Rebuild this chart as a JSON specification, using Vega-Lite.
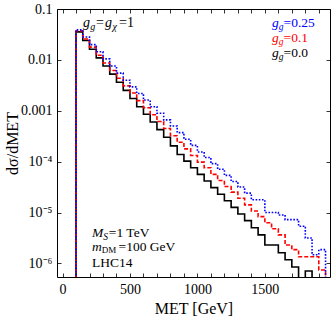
{
  "$schema": "https://vega.github.io/schema/vega-lite/v6.json",
  "autosize": {"type": "none"},
  "width": 273,
  "height": 268,
  "padding": {"left": 57, "top": 9, "right": 2, "bottom": 41},
  "background": "white",
  "config": {
    "view": {"stroke": "#000000", "strokeWidth": 1},
    "axis": {"domain": false, "grid": false, "tickColor": "#000000", "labelColor": "#000000", "titleColor": "#000000", "labelFont": "Liberation Serif", "titleFont": "Liberation Serif", "labelFontSize": 14, "titleFontSize": 16, "titleFontWeight": "normal", "tickWidth": 0.8},
    "text": {"font": "Liberation Serif", "fontSize": 13.5, "align": "left", "baseline": "alphabetic", "color": "#000000"}
  },
  "datasets": {
    "hist": [
      {"met": 50, "v": 1e-9, "s": "0.0"},
      {"met": 100, "v": 0.03548, "s": "0.0"},
      {"met": 150, "v": 0.02399, "s": "0.0"},
      {"met": 200, "v": 0.01622, "s": "0.0"},
      {"met": 250, "v": 0.01096, "s": "0.0"},
      {"met": 300, "v": 0.007586, "s": "0.0"},
      {"met": 350, "v": 0.005248, "s": "0.0"},
      {"met": 400, "v": 0.003631, "s": "0.0"},
      {"met": 450, "v": 0.002512, "s": "0.0"},
      {"met": 500, "v": 0.001738, "s": "0.0"},
      {"met": 550, "v": 0.001202, "s": "0.0"},
      {"met": 600, "v": 0.0008511, "s": "0.0"},
      {"met": 650, "v": 0.0006026, "s": "0.0"},
      {"met": 700, "v": 0.0004266, "s": "0.0"},
      {"met": 750, "v": 0.000302, "s": "0.0"},
      {"met": 800, "v": 0.0002042, "s": "0.0"},
      {"met": 850, "v": 0.000138, "s": "0.0"},
      {"met": 900, "v": 0.0001023, "s": "0.0"},
      {"met": 950, "v": 7.586e-5, "s": "0.0"},
      {"met": 1000, "v": 5.623e-5, "s": "0.0"},
      {"met": 1050, "v": 4.169e-5, "s": "0.0"},
      {"met": 1100, "v": 3.09e-5, "s": "0.0"},
      {"met": 1150, "v": 2.291e-5, "s": "0.0"},
      {"met": 1200, "v": 1.698e-5, "s": "0.0"},
      {"met": 1250, "v": 1.259e-5, "s": "0.0"},
      {"met": 1300, "v": 9.333e-6, "s": "0.0"},
      {"met": 1350, "v": 6.918e-6, "s": "0.0"},
      {"met": 1400, "v": 5.012e-6, "s": "0.0"},
      {"met": 1450, "v": 3.631e-6, "s": "0.0"},
      {"met": 1500, "v": 2.291e-6, "s": "0.0"},
      {"met": 1550, "v": 2.291e-6, "s": "0.0"},
      {"met": 1600, "v": 1.622e-6, "s": "0.0"},
      {"met": 1650, "v": 1.175e-6, "s": "0.0"},
      {"met": 1700, "v": 8.511e-7, "s": "0.0"},
      {"met": 1750, "v": 1e-9, "s": "0.0"},
      {"met": 1800, "v": 7.079e-7, "s": "0.0"},
      {"met": 1850, "v": 1e-9, "s": "0.0"},
      {"met": 1900, "v": 1e-9, "s": "0.0"},
      {"met": 1950, "v": 1e-9, "s": "0.0"},
      {"met": 50, "v": 1e-9, "s": "0.1"},
      {"met": 100, "v": 0.03715, "s": "0.1"},
      {"met": 150, "v": 0.0257, "s": "0.1"},
      {"met": 200, "v": 0.01778, "s": "0.1"},
      {"met": 250, "v": 0.0123, "s": "0.1"},
      {"met": 300, "v": 0.00871, "s": "0.1"},
      {"met": 350, "v": 0.006166, "s": "0.1"},
      {"met": 400, "v": 0.004365, "s": "0.1"},
      {"met": 450, "v": 0.00309, "s": "0.1"},
      {"met": 500, "v": 0.002239, "s": "0.1"},
      {"met": 550, "v": 0.001585, "s": "0.1"},
      {"met": 600, "v": 0.001148, "s": "0.1"},
      {"met": 650, "v": 0.0008318, "s": "0.1"},
      {"met": 700, "v": 0.0006166, "s": "0.1"},
      {"met": 750, "v": 0.0004467, "s": "0.1"},
      {"met": 800, "v": 0.0003236, "s": "0.1"},
      {"met": 850, "v": 0.0002399, "s": "0.1"},
      {"met": 900, "v": 0.0001778, "s": "0.1"},
      {"met": 950, "v": 0.0001318, "s": "0.1"},
      {"met": 1000, "v": 9.772e-5, "s": "0.1"},
      {"met": 1050, "v": 7.586e-5, "s": "0.1"},
      {"met": 1100, "v": 5.623e-5, "s": "0.1"},
      {"met": 1150, "v": 4.266e-5, "s": "0.1"},
      {"met": 1200, "v": 3.236e-5, "s": "0.1"},
      {"met": 1250, "v": 2.512e-5, "s": "0.1"},
      {"met": 1300, "v": 1.905e-5, "s": "0.1"},
      {"met": 1350, "v": 1.413e-5, "s": "0.1"},
      {"met": 1400, "v": 1.072e-5, "s": "0.1"},
      {"met": 1450, "v": 8.318e-6, "s": "0.1"},
      {"met": 1500, "v": 6.31e-6, "s": "0.1"},
      {"met": 1550, "v": 4.786e-6, "s": "0.1"},
      {"met": 1600, "v": 3.631e-6, "s": "0.1"},
      {"met": 1650, "v": 2.291e-6, "s": "0.1"},
      {"met": 1700, "v": 1.862e-6, "s": "0.1"},
      {"met": 1750, "v": 1.349e-6, "s": "0.1"},
      {"met": 1800, "v": 1.349e-6, "s": "0.1"},
      {"met": 1850, "v": 1.349e-6, "s": "0.1"},
      {"met": 1900, "v": 7.413e-7, "s": "0.1"},
      {"met": 1950, "v": 1e-9, "s": "0.1"},
      {"met": 50, "v": 1e-9, "s": "0.25"},
      {"met": 100, "v": 0.0389, "s": "0.25"},
      {"met": 150, "v": 0.02818, "s": "0.25"},
      {"met": 200, "v": 0.01995, "s": "0.25"},
      {"met": 250, "v": 0.01445, "s": "0.25"},
      {"met": 300, "v": 0.01047, "s": "0.25"},
      {"met": 350, "v": 0.007586, "s": "0.25"},
      {"met": 400, "v": 0.005495, "s": "0.25"},
      {"met": 450, "v": 0.003981, "s": "0.25"},
      {"met": 500, "v": 0.002951, "s": "0.25"},
      {"met": 550, "v": 0.002188, "s": "0.25"},
      {"met": 600, "v": 0.001622, "s": "0.25"},
      {"met": 650, "v": 0.001202, "s": "0.25"},
      {"met": 700, "v": 0.0008913, "s": "0.25"},
      {"met": 750, "v": 0.0006607, "s": "0.25"},
      {"met": 800, "v": 0.0005012, "s": "0.25"},
      {"met": 850, "v": 0.0003715, "s": "0.25"},
      {"met": 900, "v": 0.0002754, "s": "0.25"},
      {"met": 950, "v": 0.0002089, "s": "0.25"},
      {"met": 1000, "v": 0.0001549, "s": "0.25"},
      {"met": 1050, "v": 0.0001202, "s": "0.25"},
      {"met": 1100, "v": 9.12e-5, "s": "0.25"},
      {"met": 1150, "v": 7.079e-5, "s": "0.25"},
      {"met": 1200, "v": 5.37e-5, "s": "0.25"},
      {"met": 1250, "v": 4.074e-5, "s": "0.25"},
      {"met": 1300, "v": 3.162e-5, "s": "0.25"},
      {"met": 1350, "v": 2.399e-5, "s": "0.25"},
      {"met": 1400, "v": 1.778e-5, "s": "0.25"},
      {"met": 1450, "v": 1.778e-5, "s": "0.25"},
      {"met": 1500, "v": 1e-5, "s": "0.25"},
      {"met": 1550, "v": 1e-5, "s": "0.25"},
      {"met": 1600, "v": 8.913e-6, "s": "0.25"},
      {"met": 1650, "v": 7.244e-6, "s": "0.25"},
      {"met": 1700, "v": 7.244e-6, "s": "0.25"},
      {"met": 1750, "v": 5.37e-6, "s": "0.25"},
      {"met": 1800, "v": 3.162e-6, "s": "0.25"},
      {"met": 1850, "v": 1.479e-6, "s": "0.25"},
      {"met": 1900, "v": 1.862e-6, "s": "0.25"},
      {"met": 1950, "v": 1e-9, "s": "0.25"}
    ]
  },
  "layer": [
    {
      "data": {"name": "hist"},
      "transform": [{"filter": "datum.s === '0.0'"}],
      "mark": {"type": "line", "interpolate": "step-after", "clip": true, "color": "#000000", "strokeWidth": 1.6},
      "encoding": {
        "x": {"field": "met", "type": "quantitative", "scale": {"domain": [-41, 1983], "nice": false, "zero": false},
              "axis": {"orient": "bottom", "title": "MET [GeV]", "values": [0,100,200,300,400,500,600,700,800,900,1000,1100,1200,1300,1400,1500,1600,1700,1800,1900], "format": "d",
                       "labelExpr": "datum.value % 500 === 0 ? datum.label : ''", "tickSize": -4, "labelPadding": 9, "titlePadding": 4, "labelFlush": false, "labelOverlap": false}},
        "y": {"field": "v", "type": "quantitative", "scale": {"type": "log", "domain": [5.4e-7, 0.1], "nice": false},
              "axis": {"orient": "left", "title": "dσ/dMET", "values": [1e-6, 1e-5, 1e-4, 0.001, 0.01, 0.1],
                       "labelExpr": "datum.value > 0.05 ? '0.1' : datum.value > 0.005 ? '0.01' : datum.value > 0.0005 ? '0.001' : '10⁻' + ['⁰','¹','²','³','⁴','⁵','⁶','⁷'][round(-log(datum.value)/LN10)]",
                       "tickSize": -4, "labelPadding": 9, "titlePadding": 0, "labelFlush": false, "labelOverlap": false}}
      }
    },
    {
      "data": {"name": "hist"},
      "transform": [{"filter": "datum.s === '0.1'"}],
      "mark": {"type": "line", "interpolate": "step-after", "clip": true, "color": "#ff0000", "strokeWidth": 1.6, "strokeDash": [4, 2]},
      "encoding": {
        "x": {"field": "met", "type": "quantitative", "axis": null},
        "y": {"field": "v", "type": "quantitative", "axis": null}
      }
    },
    {
      "data": {"name": "hist"},
      "transform": [{"filter": "datum.s === '0.25'"}],
      "mark": {"type": "line", "interpolate": "step-after", "clip": true, "color": "#0000ff", "strokeWidth": 1.6, "strokeDash": [1.6, 1.6]},
      "encoding": {
        "x": {"field": "met", "type": "quantitative",
              "axis": {"orient": "top", "title": null, "labels": false, "values": [0,100,200,300,400,500,600,700,800,900,1000,1100,1200,1300,1400,1500,1600,1700,1800,1900], "tickSize": -4}},
        "y": {"field": "v", "type": "quantitative",
              "axis": {"orient": "right", "title": null, "labels": false, "values": [1e-6, 1e-5, 1e-4, 0.001, 0.01, 0.1], "tickSize": -4}}
      }
    },
    {"data": {"values": [{}]}, "mark": {"type": "text", "text": "g", "fontStyle": "italic", "fontSize": 14}, "encoding": {"x": {"datum": 152, "axis": null}, "y": {"datum": 0.0443, "axis": null}}},
    {"data": {"values": [{}]}, "mark": {"type": "text", "text": "g", "fontStyle": "italic", "fontSize": 10, "dx": 7.2, "dy": 3}, "encoding": {"x": {"datum": 152, "axis": null}, "y": {"datum": 0.0443, "axis": null}}},
    {"data": {"values": [{}]}, "mark": {"type": "text", "text": "=", "fontSize": 14, "dx": 13}, "encoding": {"x": {"datum": 152, "axis": null}, "y": {"datum": 0.0443, "axis": null}}},
    {"data": {"values": [{}]}, "mark": {"type": "text", "text": "g", "fontStyle": "italic", "fontSize": 14, "dx": 22}, "encoding": {"x": {"datum": 152, "axis": null}, "y": {"datum": 0.0443, "axis": null}}},
    {"data": {"values": [{}]}, "mark": {"type": "text", "text": "χ", "fontStyle": "italic", "fontSize": 10, "dx": 29.5, "dy": 3}, "encoding": {"x": {"datum": 152, "axis": null}, "y": {"datum": 0.0443, "axis": null}}},
    {"data": {"values": [{}]}, "mark": {"type": "text", "text": "=1", "fontSize": 14, "dx": 36}, "encoding": {"x": {"datum": 152, "axis": null}, "y": {"datum": 0.0443, "axis": null}}},

    {"data": {"values": [{}]}, "mark": {"type": "text", "text": "g", "fontStyle": "italic", "color": "#0000ff"}, "encoding": {"x": {"datum": 1553, "axis": null}, "y": {"datum": 0.0443, "axis": null}}},
    {"data": {"values": [{}]}, "mark": {"type": "text", "text": "g", "fontStyle": "italic", "fontSize": 9.5, "dx": 6.8, "dy": 3, "color": "#0000ff"}, "encoding": {"x": {"datum": 1553, "axis": null}, "y": {"datum": 0.0443, "axis": null}}},
    {"data": {"values": [{}]}, "mark": {"type": "text", "text": "=0.25", "dx": 11.6, "color": "#0000ff"}, "encoding": {"x": {"datum": 1553, "axis": null}, "y": {"datum": 0.0443, "axis": null}}},
    {"data": {"values": [{}]}, "mark": {"type": "text", "text": "g", "fontStyle": "italic", "color": "#ff0000"}, "encoding": {"x": {"datum": 1553, "axis": null}, "y": {"datum": 0.02244, "axis": null}}},
    {"data": {"values": [{}]}, "mark": {"type": "text", "text": "g", "fontStyle": "italic", "fontSize": 9.5, "dx": 6.8, "dy": 3, "color": "#ff0000"}, "encoding": {"x": {"datum": 1553, "axis": null}, "y": {"datum": 0.02244, "axis": null}}},
    {"data": {"values": [{}]}, "mark": {"type": "text", "text": "=0.1", "dx": 11.6, "color": "#ff0000"}, "encoding": {"x": {"datum": 1553, "axis": null}, "y": {"datum": 0.02244, "axis": null}}},
    {"data": {"values": [{}]}, "mark": {"type": "text", "text": "g", "fontStyle": "italic"}, "encoding": {"x": {"datum": 1553, "axis": null}, "y": {"datum": 0.0114, "axis": null}}},
    {"data": {"values": [{}]}, "mark": {"type": "text", "text": "g", "fontStyle": "italic", "fontSize": 9.5, "dx": 6.8, "dy": 3}, "encoding": {"x": {"datum": 1553, "axis": null}, "y": {"datum": 0.0114, "axis": null}}},
    {"data": {"values": [{}]}, "mark": {"type": "text", "text": "=0.0", "dx": 11.6}, "encoding": {"x": {"datum": 1553, "axis": null}, "y": {"datum": 0.0114, "axis": null}}},

    {"data": {"values": [{}]}, "mark": {"type": "text", "text": "M", "fontStyle": "italic"}, "encoding": {"x": {"datum": 219, "axis": null}, "y": {"datum": 3.3e-6, "axis": null}}},
    {"data": {"values": [{}]}, "mark": {"type": "text", "text": "S", "fontStyle": "italic", "fontSize": 9.5, "dx": 11.3, "dy": 3}, "encoding": {"x": {"datum": 219, "axis": null}, "y": {"datum": 3.3e-6, "axis": null}}},
    {"data": {"values": [{}]}, "mark": {"type": "text", "text": "=1 TeV", "dx": 16.8}, "encoding": {"x": {"datum": 219, "axis": null}, "y": {"datum": 3.3e-6, "axis": null}}},
    {"data": {"values": [{}]}, "mark": {"type": "text", "text": "m", "fontStyle": "italic"}, "encoding": {"x": {"datum": 219, "axis": null}, "y": {"datum": 1.714e-6, "axis": null}}},
    {"data": {"values": [{}]}, "mark": {"type": "text", "text": "DM", "fontSize": 9, "dx": 9.8, "dy": 2}, "encoding": {"x": {"datum": 219, "axis": null}, "y": {"datum": 1.714e-6, "axis": null}}},
    {"data": {"values": [{}]}, "mark": {"type": "text", "text": "=100 GeV", "dx": 26.5}, "encoding": {"x": {"datum": 219, "axis": null}, "y": {"datum": 1.714e-6, "axis": null}}},
    {"data": {"values": [{}]}, "mark": {"type": "text", "text": "LHC14", "dy": 1}, "encoding": {"x": {"datum": 219, "axis": null}, "y": {"datum": 8.9e-7, "axis": null}}}
  ],
  "resolve": {"axis": {"x": "independent", "y": "independent"}}
}
